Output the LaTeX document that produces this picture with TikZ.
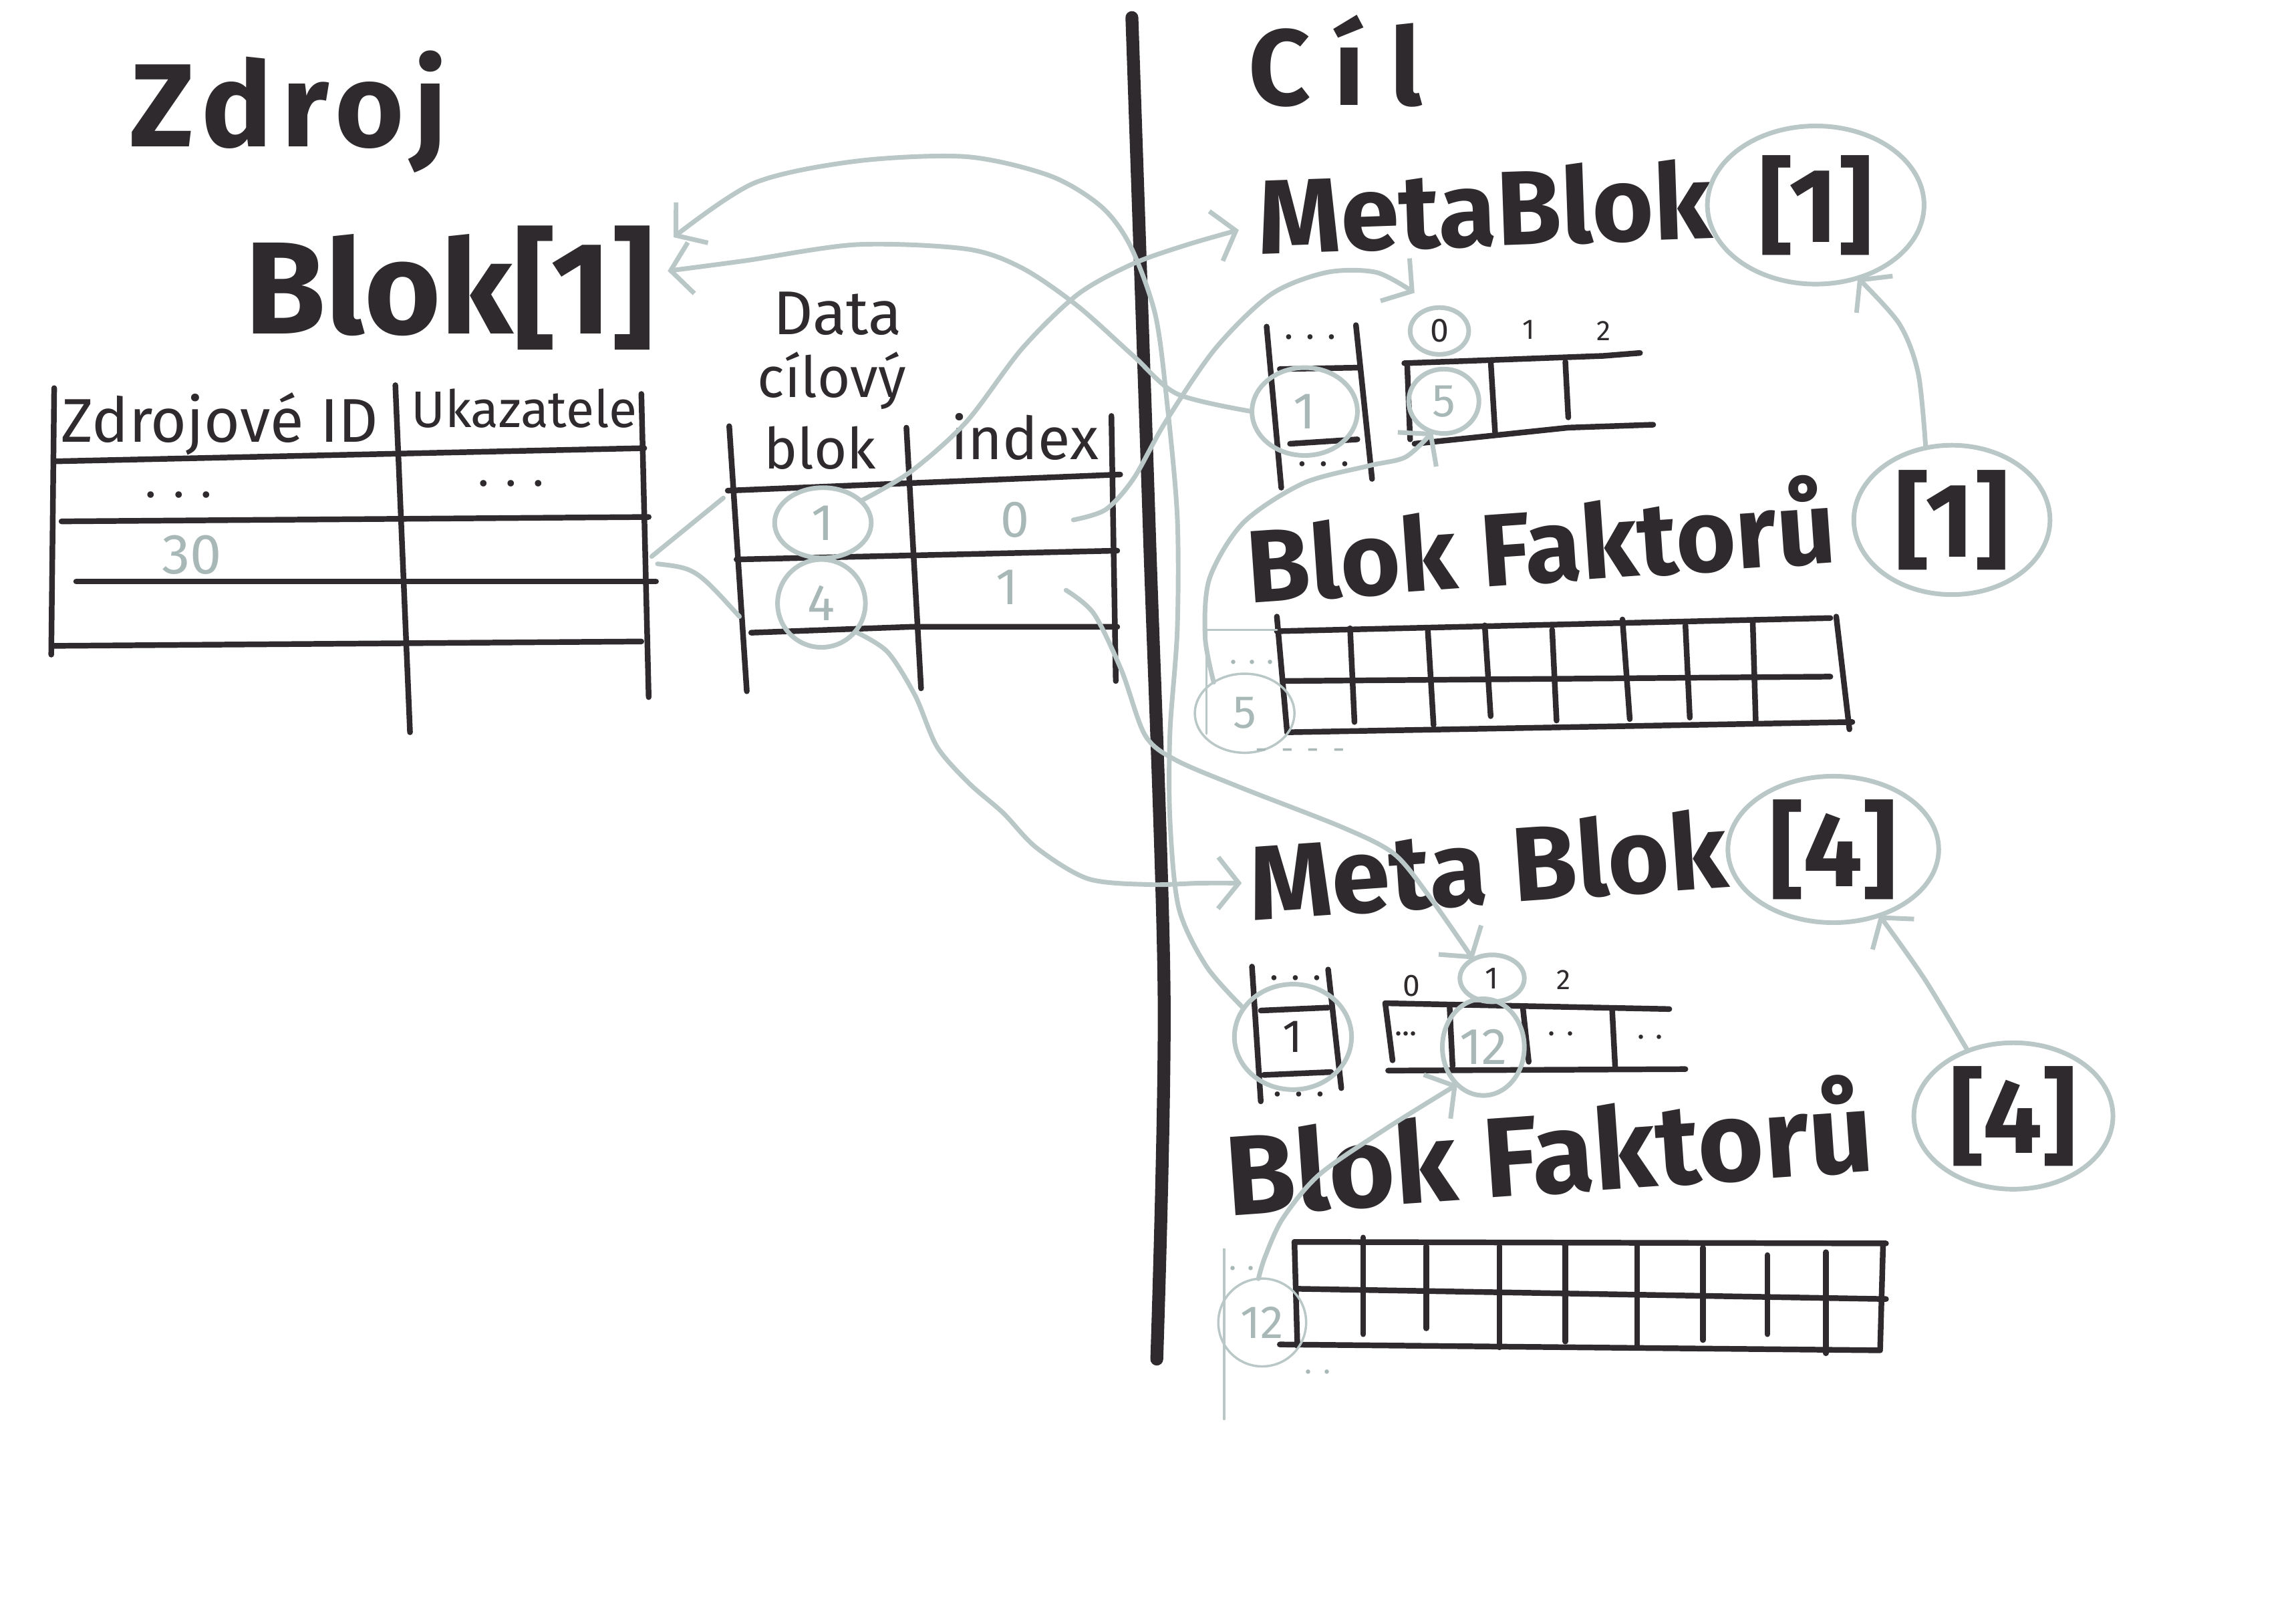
\documentclass[tikz,border=0pt]{standalone}
\usepackage{fontspec}
\setmainfont{Fira Sans}
\usetikzlibrary{shapes.geometric,arrows.meta}
\definecolor{ink}{HTML}{2E2A2D}
\definecolor{pencil}{HTML}{B9C7C6}
\definecolor{paletext}{HTML}{A7B8B6}
\newcommand\fsz[1]{\fontsize{#1}{#1}\selectfont}

\begin{document}
\begin{tikzpicture}[x=0.02cm,y=-0.02cm,
  every node/.style={inner sep=0pt, outer sep=0pt},
  pen/.style={draw=ink, line width=2.2pt, line cap=round, line join=round},
  divider/.style={draw=ink, line width=5pt, line cap=round},
  link/.style={draw=pencil, line width=1.8pt, line cap=round, line join=round},
  linkto/.style={link, -{Straight Barb[length=8pt,width=20pt]}},
  faint/.style={draw=pencil, line width=0.9pt, line cap=round},
  ring/.style n args={2}{ellipse, draw=pencil, line width=1.8pt, minimum width=#1, minimum height=#2},
  thinring/.style n args={2}{ellipse, draw=pencil, line width=0.9pt, minimum width=#1, minimum height=#2},
  bigtext/.style={text=ink, font=\bfseries\fsz{#1}},
  headtext/.style={text=ink, font=\bfseries\fsz{#1}},
  hand/.style={text=ink, font=\fsz{#1}},
  pale/.style={text=paletext, font=\fsz{#1}},
]
\useasboundingbox (0,0) rectangle (1568,1099);
\fill[white] (0,0) rectangle (1568,1099);

% ---------- headings ----------
\node[headtext=46, anchor=base] (zdroj) at (197,100) {\addfontfeature{LetterSpace=8}Zdroj};
\node[headtext=42, anchor=base] (cil) at (912,72) {\addfontfeature{LetterSpace=22}Cíl};

% ---------- divider ----------
\draw[divider] plot[smooth] coordinates {(773,12) (785,365) (795,680) (790,928)};

% ---------- source block ----------
\node[bigtext=51, anchor=base] (blok1) at (307,228) {Blok[1]};

\draw[pen] (37,265) -- (35,447);
\draw[pen] (270,263) -- (280,500);
\draw[pen] (438,269) -- (443,476);
\draw[pen] (37,315) -- (440,306);
\draw[pen] (42,356) -- (443,353);
\draw[pen] (52,397) -- (448,397);
\draw[pen] (37,441) -- (438,438);
\node[hand=24, anchor=base] (srcid) at (150,302) {Zdrojové ID};
\node[hand=20, anchor=base] (srcptr) at (358,292) {Ukazatele};
\node[hand=18] (srcdots1) at (122,338) {. . .};
\node[hand=18] (srcdots2) at (349,330) {. . .};
\node[pale=22] (src30) at (131,379) {30};

% ---------- target data table ----------
\node[hand=24] (dtitle1) at (572,214) {Data};
\node[hand=22] (dtitle2) at (568,260) {cílový};
\draw[pen] (498,291) -- (510,472);
\draw[pen] (619,292) -- (629,470);
\draw[pen] (759,284) -- (762,465);
\draw[pen] (497,335) -- (765,324);
\draw[pen] (503,382) -- (763,376);
\draw[pen] (513,432) -- (622,428) -- (763,428);
\node[hand=22] (dblok) at (560,306) {blok};
\node[hand=23] (dindex) at (700,298) {index};
\node[ring={1.32cm}{0.96cm}, pale=20] (d1) at (562,357) {1};
\node[ring={1.2cm}{1.2cm}, pale=20] (d4) at (561,412) {4};
\node[pale=20] (x0) at (693,355) {0};
\node[pale=20] (x1) at (688,401) {1};

% ---------- MetaBlok[1] ----------
\node[bigtext=41, anchor=base, rotate=2] (meta1) at (1015,168) {MetaBlok};
\node[ring={2.96cm}{2.16cm}, bigtext=41] (m1r) at (1240,140) {[1]};

\draw[pen] (865,223) -- (875,333);
\draw[pen] (926,222) -- (937,327);
\draw[pen] (874,252) -- (929,251);
\draw[pen] (881,303) -- (927,300);
\node[hand=14] (m1dots1) at (895,230) {. . .};
\node[hand=14] (m1dots2) at (904,317) {. . .};
\node[ring={1.44cm}{1.2cm}, pale=20] (m1a) at (891,281) {1};

\draw[pen] (959,248) -- (1014,246) -- (1095,243) -- (1120,241);
\draw[pen] (966,303) -- (1071,292) -- (1129,290);
\draw[pen] (961,249) -- (963,300);
\draw[pen] (1018,246) -- (1021,295);
\draw[pen] (1069,247) -- (1071,285);
\node[ring={0.8cm}{0.64cm}, hand=13] (i0) at (983,226) {0};
\node[hand=11] (m1i1) at (1044,225) {1};
\node[hand=11] (m1i2) at (1095,226) {2};
\node[ring={0.96cm}{0.88cm}, pale=18] (m1b) at (986,274) {5};

% ---------- Blok Faktorů [1] ----------
\node[bigtext=40, anchor=base, rotate=4] (fakt1) at (1054,398) {Blok Faktorů};
\node[ring={2.68cm}{2.04cm}, bigtext=41] (fk1) at (1333,355) {[1]};

\draw[pen] (872,431) -- (1250,422);
\draw[pen] (876,465) -- (1250,462);
\draw[pen] (879,500) -- (1265,493);
\draw[pen] (872,421) -- (879,500);
\draw[pen] (1254,421) -- (1263,498);
\foreach \xa/\ya/\xb/\yb in {922/429/925/493, 975/429/979/495, 1014/427/1018/489,
  1060/430/1063/492, 1108/423/1113/491, 1151/427/1154/490, 1197/425/1199/492}
  \draw[pen] (\xa,\ya) -- (\xb,\yb);

\draw[faint] (872,430) -- (824,430) -- (824,501);
\node[thinring={1.36cm}{1.08cm}, pale=18] (f5) at (850,487) {5};
\node[pale=12] (f5dots1) at (855,452) {. . .};
\node[pale=12] (f5dots2) at (888,515) {-\, -\, -\, -};

% ---------- Meta Blok [4] ----------
\node[bigtext=41, anchor=base, rotate=4] (meta4) at (1018,617) {Meta Blok};
\node[ring={2.88cm}{2.0cm}, bigtext=41] (m4r) at (1252,580) {[4]};

\draw[pen] (855,660) -- (861,752);
\draw[pen] (907,662) -- (916,743);
\draw[pen] (861,690) -- (907,688);
\draw[pen] (863,734) -- (909,732);
\node[hand=14] (m4dots1) at (885,668) {. . .};
\node[hand=14] (m4dots2) at (887,747) {. . .};
\node[ring={1.6cm}{1.44cm}, hand=18] (m4a) at (883,708) {1};

\draw[pen] (946,685) -- (1140,689);
\draw[pen] (948,731) -- (1151,730);
\draw[pen] (946,685) -- (951,724);
\draw[pen] (990,688) -- (992,728);
\draw[pen] (1040,688) -- (1044,725);
\draw[pen] (1101,690) -- (1103,728);
\node[hand=12] (m4i0) at (964,673) {0};
\node[ring={0.88cm}{0.64cm}, hand=12] (i4) at (1019,668) {1};
\node[hand=11] (m4i2) at (1068,669) {2};
\node[hand=12] (c0) at (960,706) {...};
\node[ring={1.12cm}{1.32cm}, pale=20] (r12) at (1013,715) {12};
\node[hand=12] (c2) at (1066,706) {. .};
\node[hand=12] (c3) at (1127,708) {. .};

% ---------- Blok Faktorů [4] ----------
\node[bigtext=44, anchor=base, rotate=4] (fakt4) at (1060,815) {Blok Faktorů};
\node[ring={2.72cm}{2.0cm}, bigtext=41] (fk4) at (1375,762) {[4]};

\draw[pen] (884,848) -- (1288,849);
\draw[pen] (886,880) -- (1288,887);
\draw[pen] (874,918) -- (1284,922);
\draw[pen] (884,848) -- (886,919);
\draw[pen] (1286,849) -- (1284,921);
\foreach \xa/\ya/\yb in {931/845/911, 974/851/907, 1024/851/920, 1069/849/916,
  1118/849/920, 1163/852/915, 1207/857/911, 1247/855/924}
  \draw[pen] (\xa,\ya) -- (\xa,\yb);

\draw[faint] (836,853) -- (836,969);
\node[thinring={1.2cm}{1.2cm}, pale=18] (f12) at (862,903) {12};
\node[pale=12] (f12dots1) at (848,866) {. .};
\node[pale=12] (f12dots2) at (900,937) {. .};

% ---------- connector ends ----------
\coordinate (blokTipA) at (460,162);
\coordinate (blokTipB) at (456,185);
\coordinate (srcRow) at (445,380);
\coordinate (srcRowB) at (449,385);
\coordinate (dTop) at (494,340);
\coordinate (dBottom) at (505,421);
\coordinate (x0out) at (733,355);
\coordinate (x1out) at (728,403);
\coordinate (meta1In) at (846,157);
\coordinate (meta4In) at (848,603);
\coordinate (i0In) at (966,200);

% ---------- connectors ----------
\draw[link] (srcRow) -- (dTop);
\draw[link] (srcRowB) .. controls (475,388) .. (dBottom);

\draw[linkto] plot[smooth] coordinates {(m4a.150) (824,660) (805,620) (799,560) (799,500)
  (804,430) (804,353) (797,275) (789,215) (772,168) (752,141) (717,120) (660,107)
  (585,110) (515,125) (blokTipA)};

\draw[linkto] plot[smooth] coordinates {(m1a.180) (804,269) (774,243) (736,209) (698,183)
  (660,170) (585,167) (509,178) (blokTipB)};

\draw[linkto] plot[smooth] coordinates {(d1.30) (622,322) (660,288) (698,238) (736,201)
  (774,180) (811,167) (meta1In)};

\draw[linkto] plot[smooth] coordinates {(x0out) (755,348) (774,327) (796,288) (830,238)
  (868,201) (906,186) (940,186) (i0In)};

\draw[linkto] plot[smooth] coordinates {(d4.-40) (606,445) (625,475) (640,510) (662,535)
  (685,555) (708,579) (743,600) (785,604) (820,603) (meta4In)};

\draw[linkto] plot[smooth] coordinates {(x1out) (747,419) (766,458) (782,502) (803,519)
  (848,538) (917,565) (952,583) (976,612) (i4.135)};

\draw[linkto] plot[smooth] coordinates {(f5.135) (823,435) (826,395) (849,357) (890,330)
  (935,318) (960,312) (m1b.250)};

\draw[linkto] plot[smooth] coordinates {(f12.95) (864,858) (876,832) (901,802) (946,771)
  (r12.235)};

\draw[linkto] plot[smooth] coordinates {(fk1.110) (1310,255) (1297,221) (m1r.-60)};
\draw[linkto] plot[smooth] coordinates {(fk4.125) (1314,668) (m4r.-55)};
\end{tikzpicture}
\end{document}
